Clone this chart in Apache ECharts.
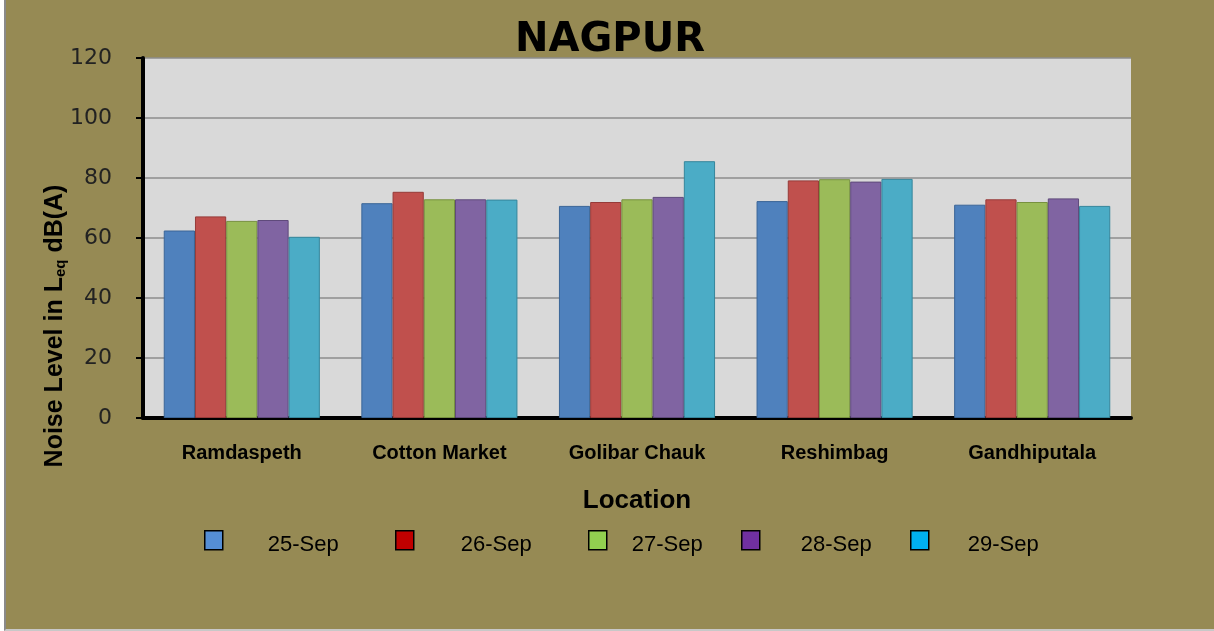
<!DOCTYPE html>
<html>
<head>
<meta charset="utf-8">
<script src="https://cdn.jsdelivr.net/npm/echarts@6/dist/echarts.min.js"></script>
<style>
  html, body { margin: 0; padding: 0; background: #fff; }
  #main {
    position: absolute; left: 4px; top: 0; width: 1208px; height: 629px;
    border-left: 2px solid #8a8a8a; border-bottom: 2px solid #c8c8c8;
  }
</style>
</head>
<body>
<div id="main"></div>
<script>
const locations = ['Ramdaspeth', 'Cotton Market', 'Golibar Chauk', 'Reshimbag', 'Gandhiputala']
const days = ['25-Sep', '26-Sep', '27-Sep', '28-Sep', '29-Sep']
const sep25 = [62.5, 71.6, 70.7, 72.3, 71.1]
const sep26 = [67.2, 75.4, 72.0, 79.2, 72.9]
const sep27 = [65.7, 72.9, 72.9, 79.6, 72.0]
const sep28 = [66.0, 72.9, 73.7, 78.8, 73.2]
const sep29 = [60.4, 72.8, 85.6, 79.7, 70.7]
const yTicks = [0, 20, 40, 60, 80, 100, 120]

const barColors = ['#4F81BD', '#C0504D', '#9BBB59', '#8064A2', '#4BACC6']
const barBorders = ['#3A6597', '#963B39', '#77913F', '#5F4A7B', '#35869C']
const legendColors = ['#558ED5', '#C00000', '#92D050', '#7030A0', '#00B0F0']
const values = [sep25, sep26, sep27, sep28, sep29]
// legend layout: icon left (container px) and gap from icon to text
const legendLeft = [193, 384, 577, 730, 899]
const legendPad = [40, 42, 20, 36, 34]

var myChart = echarts.init(document.getElementById('main'))

var option = {
  backgroundColor: '#968A54',
  animation: false,
  title: {
    text: 'NAGPUR',
    left: 'center',
    top: 16,
    textStyle: { fontFamily: 'DejaVu Sans', fontWeight: 'bold', fontSize: 40, color: '#000' }
  },
  legend: days.map((d, i) => ({
    top: 525,
    left: legendLeft[i],
    itemWidth: 18,
    itemHeight: 19,
    formatter: '{t|{name}}',
    textStyle: {
      rich: {
        t: { fontFamily: 'Liberation Sans', fontSize: 22, color: '#000', padding: [10, 0, 0, legendPad[i]] }
      }
    },
    data: [{
      name: d,
      icon: 'rect',
      itemStyle: { color: legendColors[i], borderColor: '#000', borderWidth: 1.5 }
    }]
  })),
  grid: {
    left: 137,
    right: 83,
    top: 58,
    bottom: 211,
    show: true,
    backgroundColor: '#D9D9D9',
    borderWidth: 0
  },
  xAxis: {
    type: 'category',
    data: locations,
    name: 'Location',
    nameLocation: 'middle',
    nameGap: 70,
    nameTextStyle: { fontFamily: 'Liberation Sans', fontWeight: 'bold', fontSize: 26, color: '#000', letterSpacing: 1 },
    axisLine: { lineStyle: { color: '#000', width: 4 } },
    axisTick: { show: false },
    axisLabel: { margin: 25, fontFamily: 'Liberation Sans', fontWeight: 'bold', fontSize: 20, color: '#000', letterSpacing: 1.5 }
  },
  yAxis: {
    type: 'value',
    min: yTicks[0],
    max: yTicks[yTicks.length - 1],
    interval: 20,
    name: '{a|Noise Level in L}{s|eq}{a| dB(A)}',
    nameLocation: 'middle',
    nameRotate: 90,
    nameGap: 75,
    nameMoveOverlap: false,
    nameTextStyle: {
      padding: [0, 176, 0, 0],
      rich: {
        a: { fontFamily: 'Liberation Sans', fontWeight: 'bold', fontSize: 25, color: '#000' },
        s: { fontFamily: 'Liberation Sans', fontWeight: 'bold', fontSize: 15, color: '#000', verticalAlign: 'bottom', padding: [10, 0, 0, 0] }
      }
    },
    axisLine: { show: true, lineStyle: { color: '#000', width: 4 } },
    axisTick: { show: true, length: 7, lineStyle: { color: '#000', width: 2 } },
    axisLabel: { margin: 31, fontFamily: 'DejaVu Sans', fontSize: 22, color: '#222' },
    splitLine: { lineStyle: { color: '#8C8C8C', width: 1.5 } }
  },
  series: days.map((d, i) => ({
    name: d,
    type: 'bar',
    barGap: '0%',
    barCategoryGap: '21%',
    itemStyle: { color: barColors[i], borderColor: barBorders[i], borderWidth: 1 },
    data: values[i]
  }))
}
option && myChart.setOption(option)
</script>
</body>
</html>
